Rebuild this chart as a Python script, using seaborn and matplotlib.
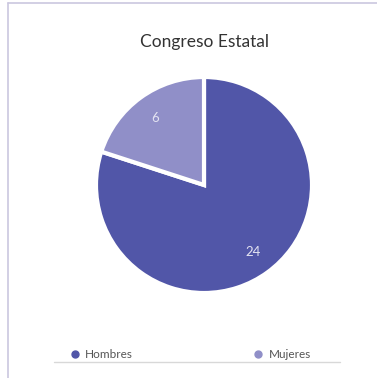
import matplotlib
matplotlib.use("Agg")
import matplotlib.pyplot as plt
import seaborn as sns
from matplotlib.lines import Line2D

# data
labels = ["Hombres", "Mujeres"]
values = [24, 6]
colors = ["#5156a8", "#908fc8"]

sns.set_theme(style="white")
plt.rcParams["font.family"] = ["Lato", "DejaVu Sans"]

W, H = 377, 378
fig = plt.figure(figsize=(W / 100, H / 100), dpi=100)

# frame lines (top and left border of the card)
fig.add_artist(Line2D([8 / W, 1], [1 - 3 / H, 1 - 3 / H], color="#cbc7df", lw=1.2))
fig.add_artist(Line2D([8 / W, 8 / W], [0, 1 - 3 / H], color="#cbc7df", lw=1.2))

fig.text(204 / W, 1 - 42 / H, "Congreso Estatal", ha="center", va="center",
         fontsize=12.5, color="#333333")

# pie axes: center (204,185), radius ~108 px
r = 108
ax = fig.add_axes([(204 - r) / W, 1 - (185 + r) / H, 2 * r / W, 2 * r / H])
wedges, texts, autotexts = ax.pie(
    values, colors=colors, startangle=90, counterclock=False,
    autopct=lambda p: f"{round(p * sum(values) / 100):d}", pctdistance=0.77,
    wedgeprops={"edgecolor": "white", "linewidth": 3},
    textprops={"color": "#e4e4f2", "fontsize": 9.5},
)
ax.set_xlim(-1.0, 1.0)
ax.set_ylim(-1.0, 1.0)
ax.set_aspect("equal")

# legend
leg = fig.legend(
    handles=[Line2D([], [], marker="o", ls="", color=c, markersize=5) for c in colors],
    labels=labels, ncol=2, loc="center left", bbox_to_anchor=(57 / W, 1 - 355 / H),
    frameon=False, fontsize=8.5, handletextpad=0.3, columnspacing=10.0,
    handlelength=1.2,
)
for t in leg.get_texts():
    t.set_color("#555555")
fig.add_artist(Line2D([54 / W, 340 / W], [1 - 362 / H, 1 - 362 / H], color="#d8d8d8", lw=1))

fig.savefig("out.png", dpi=100)
